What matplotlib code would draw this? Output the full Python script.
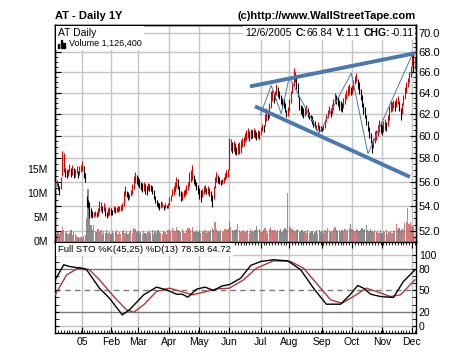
import numpy as np
import matplotlib
matplotlib.use('Agg')
import matplotlib.pyplot as plt
import matplotlib.transforms as mtransforms
from matplotlib.ticker import FixedLocator, FormatStrFormatter, NullFormatter
from matplotlib.offsetbox import AnchoredOffsetbox, TextArea, HPacker, VPacker, DrawingArea
from matplotlib.patches import Rectangle

plt.rcParams['font.family'] = ['Liberation Sans', 'DejaVu Sans']

# daily bars, 12/2004 .. 12/6/2005 (trading day index)
highs = [
    56.0, 56.1, 55.9, 55.6, 56.4, 58.6, 58.5, 57.2, 57.0, 57.1,
    57.5, 57.2, 57.4, 57.2, 57.1, 57.3, 56.9, 57.3, 57.4, 57.8,
    57.3, 56.7, 54.8, 54.5, 54.3, 53.8, 53.6, 53.5, 53.6, 53.5,
    53.8, 54.4, 54.3, 54.0, 54.2, 53.9, 53.5, 53.8, 53.9, 53.8,
    53.7, 54.0, 53.9, 53.9, 54.0, 54.0, 54.1, 54.2, 55.2, 55.6,
    55.2, 55.1, 55.0, 55.3, 55.8, 56.5, 56.8, 56.6, 56.4, 56.2,
    56.0, 55.9, 56.0, 55.8, 55.6, 55.9, 55.8, 55.7, 55.6, 55.3,
    54.8, 54.5, 54.3, 54.2, 54.4, 54.3, 54.1, 54.2, 54.1, 54.2,
    54.7, 54.9, 55.4, 55.6, 56.0, 56.4, 56.2, 55.6, 55.2, 55.1,
    55.3, 55.4, 55.7, 56.0, 56.8, 57.0, 57.4, 56.6, 56.2, 56.0,
    55.7, 55.5, 55.3, 55.4, 55.6, 55.7, 55.5, 55.6, 55.5, 55.2,
    54.9, 55.6, 56.4, 56.8, 56.6, 56.4, 56.1, 56.2, 56.4, 56.7,
    57.0, 57.1, 59.8, 59.7, 59.4, 59.5, 59.3, 59.0, 59.3, 59.4,
    59.6, 59.8, 59.9, 60.2, 60.5, 60.7, 60.4, 60.6, 60.5, 60.7,
    60.5, 60.3, 60.5, 60.4, 60.8, 61.1, 61.0, 62.0, 62.5, 62.2,
    63.0, 64.2, 64.3, 64.0, 64.2, 64.8, 64.5, 64.2, 63.8, 63.5,
    63.4, 63.0, 62.4, 62.6, 63.4, 64.2, 65.0, 66.4, 66.0, 65.6,
    64.9, 63.6, 62.8, 62.7, 62.5, 62.6, 62.8, 62.5, 62.2, 61.9,
    61.8, 61.4, 61.3, 61.0, 61.2, 61.0, 60.9, 60.8, 61.0, 61.5,
    62.0, 62.4, 62.7, 62.5, 62.9, 63.4, 64.0, 63.8, 63.6, 63.3,
    63.2, 63.0, 63.5, 63.9, 64.3, 64.6, 64.8, 64.5, 64.7, 65.2,
    65.6, 65.9, 65.3, 65.0, 64.4, 63.8, 63.0, 62.6, 61.9, 61.3,
    60.8, 60.2, 59.5, 59.8, 60.4, 60.5, 61.0, 61.4, 61.2, 61.0,
    61.3, 61.5, 61.2, 61.9, 62.7, 63.2, 63.1, 63.3, 63.2, 63.5,
    63.7, 63.2, 62.5, 63.0, 63.8, 64.5, 65.0, 65.4, 66.0, 66.6,
    67.8, 67.7, 67.5,
]
lows = [
    55.5, 55.6, 55.3, 54.9, 55.4, 56.5, 56.8, 56.4, 56.3, 56.5,
    56.8, 56.4, 56.6, 56.3, 56.4, 56.7, 56.3, 56.6, 56.8, 56.9,
    56.3, 56.0, 53.9, 53.8, 53.0, 53.1, 53.0, 53.1, 53.2, 53.1,
    53.2, 53.5, 53.6, 53.4, 53.6, 53.2, 53.0, 53.2, 53.3, 53.3,
    53.3, 53.5, 53.4, 53.5, 53.5, 53.6, 53.6, 53.7, 54.0, 54.8,
    54.7, 54.5, 54.6, 54.8, 55.0, 55.4, 55.9, 55.8, 55.6, 55.5,
    55.3, 55.1, 55.2, 55.0, 54.9, 55.3, 55.2, 55.2, 55.0, 54.6,
    54.2, 54.0, 53.8, 53.7, 53.8, 53.9, 53.7, 53.8, 53.8, 53.8,
    54.1, 54.4, 54.8, 54.9, 55.1, 55.5, 55.4, 54.8, 54.4, 54.5,
    54.7, 54.8, 55.0, 55.3, 55.6, 56.0, 56.1, 55.8, 55.6, 55.3,
    55.0, 54.6, 54.3, 54.7, 55.0, 55.1, 55.0, 55.0, 54.8, 54.4,
    53.9, 54.6, 55.5, 56.0, 55.9, 55.8, 55.7, 55.8, 55.9, 56.1,
    56.3, 56.4, 57.0, 58.6, 58.5, 58.6, 58.4, 58.3, 58.4, 58.4,
    58.5, 59.0, 59.1, 59.4, 59.6, 59.8, 59.5, 59.7, 59.8, 59.9,
    59.8, 59.6, 59.8, 59.7, 60.1, 60.4, 60.3, 60.9, 61.3, 61.4,
    61.6, 62.5, 63.2, 63.0, 63.3, 63.8, 63.6, 63.4, 62.9, 62.6,
    62.5, 62.2, 61.7, 61.8, 62.3, 63.0, 64.0, 64.6, 65.0, 64.4,
    63.6, 62.4, 62.0, 61.8, 61.6, 61.8, 62.0, 61.7, 61.5, 61.3,
    61.1, 60.8, 60.7, 60.5, 60.6, 60.4, 60.4, 60.4, 60.5, 60.7,
    61.2, 61.6, 61.9, 61.7, 62.0, 62.4, 63.0, 62.9, 62.7, 62.4,
    62.3, 62.2, 62.5, 62.9, 63.4, 63.7, 63.9, 63.8, 63.9, 64.3,
    64.8, 65.0, 64.4, 63.9, 63.3, 62.6, 62.0, 61.6, 61.0, 60.4,
    59.8, 59.3, 58.5, 58.9, 59.3, 59.6, 60.0, 60.3, 60.2, 60.1,
    60.3, 60.5, 60.4, 60.9, 61.4, 62.2, 62.3, 62.5, 62.3, 62.6,
    62.9, 62.3, 61.4, 62.0, 62.8, 63.4, 64.0, 64.5, 65.0, 65.5,
    66.6, 66.0, 66.3,
]
# volume in millions of shares
volume = [
    1.8, 1.5, 2.0, 1.4, 1.9, 2.9, 2.3, 1.6, 2.0, 1.5,
    1.7, 2.2, 1.3, 1.8, 1.4, 1.1, 0.9, 0.7, 0.8, 0.6,
    1.0, 1.3, 4.8, 10.8, 7.9, 3.3, 2.4, 3.4, 2.0, 1.8,
    2.6, 1.9, 2.3, 1.5, 2.0, 1.7, 2.4, 1.6, 1.9, 1.4,
    2.1, 1.6, 1.8, 2.3, 1.5, 1.9, 1.4, 2.0, 2.2, 1.7,
    2.0, 1.5, 1.9, 2.4, 1.6, 2.8, 2.5, 1.8, 2.1, 1.6,
    1.9, 1.4, 2.0, 1.7, 1.5, 1.8, 2.1, 1.6, 2.3, 1.5,
    2.0, 1.7, 2.4, 1.9, 1.6, 1.5, 2.0, 1.8, 1.4, 2.2,
    2.6, 2.0, 2.8, 2.3, 2.0, 3.0, 2.4, 2.0, 1.8, 2.5,
    2.1, 1.7, 2.2, 2.8, 2.7, 2.4, 2.9, 2.0, 1.8, 2.2,
    1.9, 2.3, 1.6, 2.0, 1.8, 2.2, 1.7, 2.1, 1.9, 2.4,
    2.8, 2.2, 4.0, 2.6, 2.1, 1.9, 2.3, 1.8, 2.0, 2.5,
    2.2, 2.6, 4.1, 2.9, 2.4, 2.0, 2.3, 2.6, 3.6, 2.2,
    1.9, 2.1, 2.4, 1.8, 2.0, 2.2, 1.7, 2.5, 2.0, 1.8,
    2.3, 3.1, 2.2, 2.6, 2.0, 1.9, 2.4, 2.8, 2.1, 1.7,
    2.6, 2.9, 2.2, 2.0, 2.4, 1.8, 2.3, 2.0, 2.5, 1.9,
    2.2, 2.7, 2.4, 10.1, 3.0, 2.9, 2.6, 2.3, 2.0, 2.4,
    2.6, 2.1, 1.9, 2.2, 1.8, 2.0, 1.7, 2.3, 1.6, 1.9,
    2.1, 1.5, 1.8, 2.2, 1.7, 2.4, 1.9, 2.0, 1.6, 2.3,
    2.0, 2.7, 2.2, 1.8, 2.1, 2.5, 3.0, 2.4, 2.0, 2.2,
    1.9, 2.3, 2.0, 2.6, 2.1, 2.4, 2.8, 3.6, 2.5, 2.2,
    2.0, 2.6, 2.3, 2.1, 2.4, 2.7, 2.2, 2.5, 3.4, 2.3,
    2.1, 2.6, 2.0, 1.8, 2.2, 1.9, 2.1, 1.7, 2.3, 1.6,
    2.0, 1.8, 2.2, 1.5, 1.9, 2.1, 1.7, 2.4, 2.0, 3.5,
    2.3, 2.8, 2.0, 2.5, 2.2, 3.8, 4.0, 6.9, 3.6, 3.9,
    3.2, 3.0, 1.13,
]

# full stochastics, read at turning points
k_days = [0, 6, 10, 20, 22, 31, 38, 47, 52, 62, 71, 78, 85, 89, 93, 99, 105, 111, 117,
          122, 130, 137, 144, 153, 163, 172, 181, 190, 200, 207, 212, 216, 221, 228, 237, 244, 252]
k_vals = [64.8, 86.0, 83.6, 80.3, 79.0, 53.0, 39.0, 15.5, 22.5, 43.7, 54.5, 50.7, 44.6, 44.6, 40.4,
          51.6, 54.5, 49.8, 56.3, 58.0, 67.1, 85.0, 90.6, 93.0, 91.5, 79.0, 53.1, 30.5, 30.5, 44.6,
          56.8, 53.1, 44.6, 41.3, 39.9, 62.4, 78.58]
d_days = [0, 8, 17, 24, 31, 41, 50, 55, 62, 71, 80, 90, 96, 104, 113, 122, 132, 141, 153,
          165, 174, 183, 193, 201, 209, 218, 225, 235, 242, 252]
d_vals = [43.7, 71.8, 82.2, 79.0, 64.8, 41.3, 22.5, 19.2, 29.6, 48.4, 53.1, 47.4, 43.7, 47.4, 52.1,
          53.0, 64.8, 81.2, 91.5, 90.6, 81.2, 60.1, 36.6, 31.9, 41.3, 53.1, 48.4, 41.3, 43.7, 64.72]

# drawn trend lines
upper_days = [136.5, 252.0]
upper_vals = [64.6, 67.9]
lower_days = [140.0, 248.6]
lower_vals = [62.7, 56.4]
zigzag_days = [143.8, 151.4, 158.4, 164.0, 185.0, 207.5, 219.2, 250.0]
zigzag_vals = [61.9, 64.7, 62.0, 65.5, 60.2, 65.9, 58.4, 67.7]

month_days = [19, 39, 58, 80, 101, 122, 144, 164, 187, 208, 229, 250]
month_labels = ['05', 'Feb', 'Mar', 'Apr', 'May', 'Jun', 'Jul', 'Aug', 'Sep', 'Oct', 'Nov', 'Dec']
price_ticks = [52, 54, 56, 58, 60, 62, 64, 66, 68, 70]
vol_ticks = [0, 5, 10, 15]
sto_ticks = [0, 20, 50, 80, 100]

highs = np.array(highs)
lows = np.array(lows)
days = np.arange(len(highs))
mid = (highs + lows) / 2
up = np.r_[True, mid[1:] >= mid[:-1]]
bar_col = np.where(up, '#dd0000', 'black')
vol_col = np.where(up, '#c45c5c', '#6e6e6e')

GRID = '#c4c4c4'
BLUE = '#4a78b0'
xlim = (-0.15, 252.85)

fig = plt.figure(figsize=(4.6, 3.58), dpi=100)
axv = fig.add_axes([55/460, 116/358, 361/460, 217/358])
axp = axv.twinx()
axs = fig.add_axes([55/460, 25/358, 361/460, 91/358])

# grid behind volume
hy = mtransforms.blended_transform_factory(axv.transAxes, axp.transData)
for y in price_ticks:
    axv.plot([0, 1], [y, y], color=GRID, lw=1, transform=hy, zorder=0)
for d in month_days:
    axv.axvline(d, color=GRID, lw=1, zorder=0)

axv.bar(days, volume, width=0.9, color=vol_col, alpha=0.8, zorder=2)
axv.set_ylim(-0.2, 45)
axv.set_xlim(xlim)
axv.set_xticks([])
axv.set_yticks(vol_ticks)
axv.set_yticklabels(['%dM' % v for v in vol_ticks])
axv.tick_params(axis='y', length=0, labelsize=7.5, pad=5)

axp.vlines(days, lows, highs, colors=bar_col, lw=0.8, zorder=3)
axp.plot(upper_days, upper_vals, color=BLUE, lw=2.8, solid_capstyle='butt', zorder=4)
axp.plot(lower_days, lower_vals, color=BLUE, lw=2.8, solid_capstyle='butt', zorder=4)
axp.plot(zigzag_days, zigzag_vals, color=BLUE, lw=0.7, zorder=4)
axp.set_yscale('log')
axp.set_ylim(51.15, 70.84)
axp.set_xlim(xlim)
axp.yaxis.set_major_locator(FixedLocator(price_ticks))
axp.yaxis.set_major_formatter(FormatStrFormatter('%.1f'))
axp.yaxis.set_minor_locator(FixedLocator(np.arange(51.5, 70.6, 0.5)))
axp.yaxis.set_minor_formatter(NullFormatter())
axp.tick_params(axis='y', which='both', direction='in', left=True, right=True,
                labelleft=False, labelright=True, labelsize=8, pad=2)
axp.tick_params(axis='y', which='major', length=4)
axp.tick_params(axis='y', which='minor', length=2.5)

for ax in (axv, axp, axs):
    for s in ax.spines.values():
        s.set_linewidth(1.0)
        s.set_color('black')

# legend boxes
def box(children, loc, ax):
    ab = AnchoredOffsetbox(loc=loc, child=children, pad=0.15, borderpad=0.05, frameon=True)
    ab.patch.set_facecolor('white')
    ab.patch.set_edgecolor('none')
    ab.set_zorder(6)
    ax.add_artist(ab)

icon = DrawingArea(6, 6, 0, 0)
for i, h in enumerate([3, 6, 4]):
    icon.add_artist(Rectangle((i * 2, 0), 1.2, h, color='black'))
left = VPacker(children=[TextArea('AT Daily', textprops=dict(size=7.5)),
                         HPacker(children=[icon, TextArea('Volume 1,126,400', textprops=dict(size=6.5))],
                                 sep=2, align='bottom', pad=0)],
               sep=1, align='left', pad=0)
box(left, 'upper left', axp)

parts = [('12/6/2005', 'normal'), ('C:', 'bold'), ('66.84', 'normal'), ('V:', 'bold'),
         ('1.1', 'normal'), ('CHG:', 'bold'), ('-0.11', 'normal')]
gaps = [2.5, 0, 2.5, 0, 2.5, 0]
kids = []
for i, (t, w) in enumerate(parts):
    kids.append(TextArea(t, textprops=dict(size=7.5, weight=w)))
    if i < len(gaps) and gaps[i]:
        kids.append(DrawingArea(gaps[i], 1, 0, 0))
right = HPacker(children=kids, sep=0, align='baseline', pad=0)
box(right, 'upper right', axp)

# stochastic panel
for d in month_days:
    axs.axvline(d, color=GRID, lw=1, zorder=0)
axs.axhline(100, color=GRID, lw=1, zorder=0)
axs.axhline(0, color=GRID, lw=1, zorder=0)
axs.axhline(80, color='#7a7a7a', lw=1, zorder=1)
axs.axhline(20, color='#7a7a7a', lw=1, zorder=1)
axs.axhline(50, color='#7a7a7a', lw=1, dashes=(4, 3), zorder=1)
axs.plot(d_days, d_vals, color='#a83a3a', lw=1.0, zorder=3)
axs.plot(k_days, k_vals, color='black', lw=1.0, zorder=3)
axs.set_xlim(xlim)
axs.set_ylim(-10, 118)
axs.set_yticks(sto_ticks)
axs.yaxis.set_minor_locator(FixedLocator(np.arange(0, 101, 10)))
axs.tick_params(axis='y', which='both', direction='in', left=True, right=True,
                labelleft=False, labelright=True, labelsize=7.5, pad=2, length=3)
axs.set_xticks(month_days)
axs.set_xticklabels(month_labels)
axs.xaxis.set_minor_locator(FixedLocator(np.arange(0, 253, 2)))
axs.tick_params(axis='x', which='both', direction='in', top=True, bottom=True, labelsize=7.5, pad=3)
axs.tick_params(axis='x', which='major', length=4)
axs.tick_params(axis='x', which='minor', length=2)
sto = TextArea('Full STO %K(45,25) %D(13) 78.58 64.72', textprops=dict(size=6.8))
box(sto, 'upper left', axs)

fig.text(55/460, 1 - 16/358, 'AT - Daily 1Y', ha='left', va='center', size=8, weight='bold')
fig.text(416/460, 1 - 16/358, '(c)http://www.WallStreetTape.com', ha='right', va='center',
         size=8, weight='bold')

fig.savefig('out.png', dpi=100)
